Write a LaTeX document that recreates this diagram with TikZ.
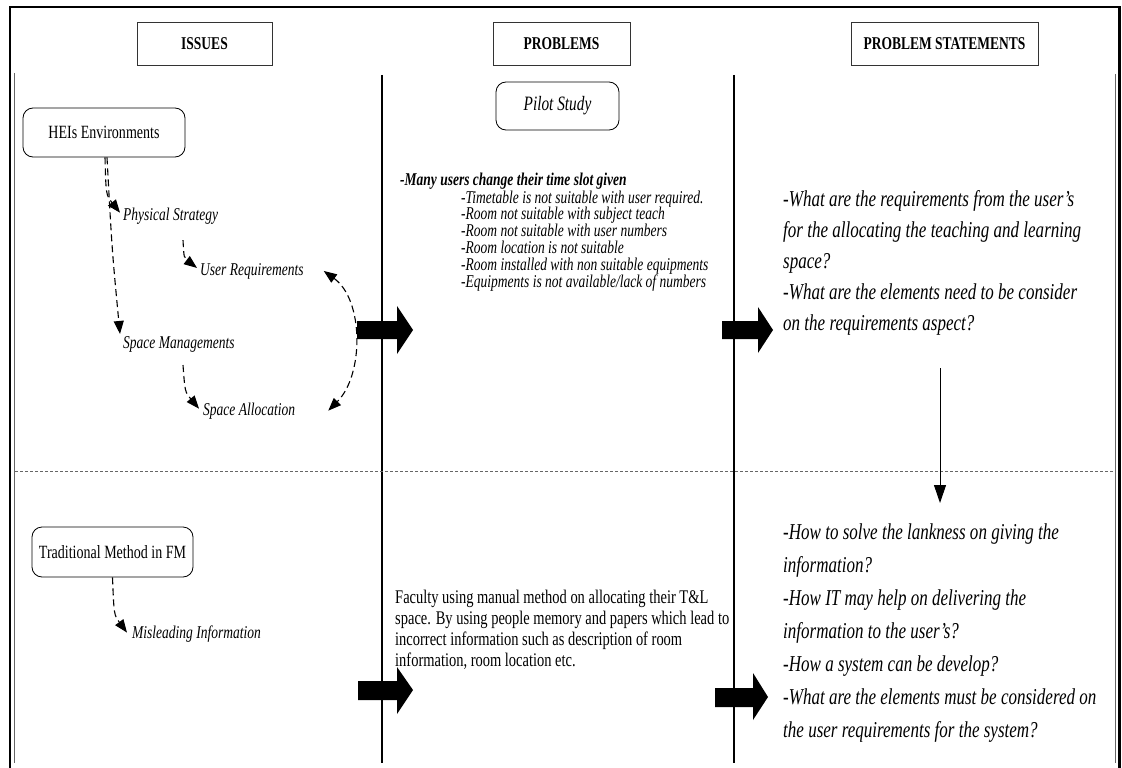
\documentclass[tikz,border=0pt]{standalone}
\usepackage{fontspec}
\setmainfont{Liberation Serif}[FakeStretch=0.75]
\usetikzlibrary{arrows.meta,calc,shadows}
\begin{document}
\begin{tikzpicture}[x=1pt,y=-1pt,
  hdr/.style={draw=black!80, line width=0.7pt, fill=white, inner sep=0pt,
    drop shadow={shadow xshift=1.2pt,shadow yshift=-1.2pt,fill=black!55,opacity=1},
    font=\fontsize{18}{20}\selectfont\bfseries},
  rbox/.style={draw, line width=0.8pt, rounded corners=10pt, inner sep=0pt, fill=white},
  lbl/.style={inner sep=0pt, anchor=base west, font=\fontsize{18}{20}\selectfont\itshape},
  darr/.style={line width=1.1pt, dash pattern=on 7pt off 4pt, -{Triangle[length=13pt,width=10pt]}},
  dd/.style={line width=1.1pt, dash pattern=on 7pt off 4pt, {Triangle[length=13pt,width=10pt]}-{Triangle[length=13pt,width=10pt]}},
  para/.style={inner sep=0pt, anchor=base west, align=left},
  blk/.style={fill=black}
]
\useasboundingbox (0,0) rectangle (1122,768);
% frame
\draw[line width=2.5pt] (10,768) -- (10,7) -- (1119.5,7) -- (1119.5,768);
\draw[black!60, line width=1.3pt] (14.5,73) -- (14.5,763);
\draw[black!60, line width=1.3pt] (1115.5,74) -- (1115.5,763);
% dividers
\draw[line width=1.5pt] (382,75) -- (382,763);
\draw[line width=1.5pt] (734,75) -- (734,763);
\draw[black!60, line width=0.6pt, dash pattern=on 3pt off 2pt] (15,471) -- (1115,471);
% headers
\node[hdr, minimum width=135pt, minimum height=43pt] (h1) at (204.5,43.5) {ISSUES};
\node[hdr, minimum width=137pt, minimum height=43pt] (h2) at (561.5,43.5) {PROBLEMS};
\node[hdr, minimum width=187pt, minimum height=43pt] (h3) at (944.5,43.5) {PROBLEM STATEMENTS};
% issues column
\node[rbox, minimum width=162pt, minimum height=49pt, font=\fontsize{18.7}{20}\selectfont] (heis) at (104,132.5) {HEIs Environments};
\node[lbl] (ps) at (123,220) {Physical Strategy};
\node[lbl] (ur) at (200,275) {User Requirements};
\node[lbl] (sm) at (123,348) {Space Managements};
\node[lbl] (sa) at (203,415) {Space Allocation};
\draw[darr] ([xshift=1pt]heis.south) .. controls (106,195) .. ([shift={(-3,-3)}]ps.west);
\draw[darr] ([xshift=3pt]heis.south) .. controls (112,250) .. ([shift={(-3,-10)}]sm.west);
\draw[darr] ($(ps.south west)+(60,16)$) .. controls (184,258) .. ([shift={(-3,-3)}]ur.west);
\draw[darr] ($(sm.south west)+(60,13)$) .. controls (185,392) .. ([shift={(-4,-2)}]sa.west);
\draw[dd] ([xshift=20pt]ur.east) .. controls (364,300) and (364,375) .. ([xshift=33pt]sa.east);
\node[rbox, minimum width=161pt, minimum height=50pt, font=\fontsize{18.7}{20}\selectfont] (tm) at (112.5,552) {Traditional Method in FM};
\node[lbl] (mi) at (132,638) {Misleading Information};
\draw[darr] (tm.south) .. controls (114,615) .. ([shift={(-5,-1)}]mi.west);
% problems column
\node[rbox, minimum width=123pt, minimum height=48pt, font=\fontsize{20.4}{22}\selectfont\itshape] (pilot) at (557.5,106) {Pilot Study};
\node[para, font=\fontsize{18}{20}\selectfont\bfseries\itshape] (many) at (400,185) {-Many users change their time slot given};
\node[para, font=\fontsize{18}{16.8}\selectfont\itshape] (items) at (461,287) {-Timetable is not suitable with user required.\\
-Room not suitable with subject teach\\
-Room not suitable with user numbers\\
-Room location is not suitable\\
-Room installed with non suitable equipments\\
-Equipments is not available/lack of numbers};
\node[para, font=\fontsize{19.3}{20.7}\selectfont] (fac) at (395,666) {Faculty using manual method on allocating their T\&L\\
space. By using people memory and papers which lead to\\
incorrect information such as description of room\\
information, room location etc.};
% problem statements column
\node[para, font=\fontsize{22.7}{31}\selectfont\itshape] (q1) at (783,330) {-What are the requirements from the user's\\
for the allocating the teaching and learning\\
space?\\
-What are the elements need to be consider\\
on the requirements aspect?};
\node[para, font=\fontsize{22.7}{33}\selectfont\itshape] (q2) at (783,737) {-How to solve the lankness on giving the\\
information?\\
-How IT may help on delivering the\\
information to the user's?\\
-How a system can be develop?\\
-What are the elements must be considered on\\
the user requirements for the system?};
\coordinate (va1) at (940,368);
\coordinate (va2) at (940,503);
\draw[line width=1pt, -{Triangle[length=18pt,width=12pt]}] (va1) -- (va2);
% block arrows
\fill[blk] (357,321) -- (397,321) -- (397,306) -- (413,330) -- (397,354) -- (397,339) -- (357,339) -- cycle;
\fill[blk] (722,321) -- (758,321) -- (758,307) -- (773,330) -- (758,353) -- (758,339) -- (722,339) -- cycle;
\fill[blk] (358,681) -- (397,681) -- (397,667) -- (413,690) -- (397,714) -- (397,700) -- (358,700) -- cycle;
\fill[blk] (715,688) -- (753,688) -- (753,673) -- (768,697) -- (753,720) -- (753,707) -- (715,707) -- cycle;
\end{tikzpicture}
\end{document}
